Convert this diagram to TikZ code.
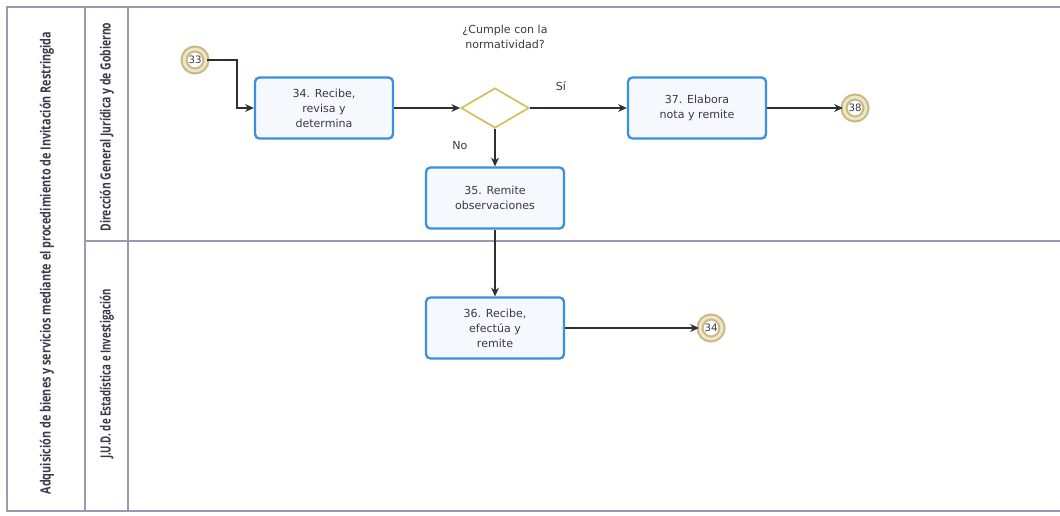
\documentclass[tikz,border=0pt]{standalone}
\usepackage{fontspec}
\setmainfont{DejaVu Sans}
\newfontfamily\lanefont{Open Sans}
\usetikzlibrary{shapes.geometric,arrows.meta}
\definecolor{laneline}{HTML}{9A9AB0}
\definecolor{boxblue}{HTML}{3A8FDE}
\definecolor{boxfill}{HTML}{F5F8FD}
\definecolor{gold}{HTML}{D2C260}
\definecolor{ring}{HTML}{C8BA82}
\definecolor{ringfill}{HTML}{EEE6C8}
\definecolor{arrowc}{HTML}{2E2E35}
\definecolor{txt}{HTML}{3A3A48}
\tikzset{
  lane/.style={draw=laneline, line width=0.6pt},
  task/.style={draw=boxblue, fill=boxfill, line width=1.3pt, rounded corners=2.5pt,
    minimum width=138*0.02cm, minimum height=61*0.02cm, align=center,
    font=\fontsize{6.3}{8.6}\selectfont, text=txt, inner sep=1pt},
  gate/.style={diamond, draw=gold, fill=white, line width=1pt, minimum width=68*0.02cm,
    minimum height=40*0.02cm, inner sep=0pt, aspect=1.7},
  link/.style={circle, draw=ring, fill=white, line width=1.2pt, minimum width=22*0.02cm,
    inner sep=0pt, font=\fontsize{5.8}{6}\selectfont, text=txt,
    double=ringfill, double distance=1.6pt},
  arr/.style={draw=arrowc, line width=0.7pt, -{Stealth[length=5pt,width=4.5pt]}},
  lbl/.style={font=\fontsize{6.3}{8.6}\selectfont, text=txt, align=center},
  lanelbl/.style={rotate=90, font=\lanefont\bfseries\fontsize{8}{9}\selectfont, text=txt}
}
\begin{document}
\begin{tikzpicture}[x=0.02cm, y=-0.02cm]
\useasboundingbox (0,0) rectangle (1060,515);
% pool frame
\draw[lane] (1060,7) -- (7,7) -- (7,511) -- (1060,511);
\draw[lane] (85,7) -- (85,511);
\draw[lane] (128,7) -- (128,511);
\draw[lane] (85,241) -- (1060,241);
% labels of pool and lanes
\node[lanelbl] (pool) at (47,263) {\scalebox{0.77}[1]{Adquisición de bienes y servicios mediante el procedimiento de Invitación Restringida}};
\node[lanelbl] (lane1) at (107,127) {\scalebox{0.74}[1]{Dirección General Jurídica y de Gobierno}};
\node[lanelbl] (lane2) at (107,374) {\scalebox{0.69}[1]{J.U.D. de Estadística e Investigación}};
% nodes
\node[link] (c33) at (195,60) {33};
\node[task] (t34) at (324,108) {34. Recibe,\\revisa y\\determina};
\node[gate] (g) at (495,108) {};
\node[lbl] (q) at (505,37) {¿Cumple con la\\normatividad?};
\node[task] (t37) at (697,108) {37. Elabora\\nota y remite};
\node[link] (c38) at (855,108) {38};
\node[task] (t35) at (495,198) {35. Remite\\observaciones};
\node[task] (t36) at (495,328) {36. Recibe,\\efectúa  y\\remite};
\node[link] (c34) at (711,328) {34};
\coordinate (b1) at (237,60);
% connectors
\draw[arr] (c33.east) -- (b1) |- (t34.west);
\draw[arr] (t34.east) -- (g.west);
\draw[arr] (g.east) -- node[lbl, pos=0.32, above=6pt] (si) {Sí} (t37.west);
\draw[arr] (g.south) -- node[lbl, pos=0.45, left=12pt] (no) {No} (t35.north);
\draw[arr] (t35.south) -- (t36.north);
\draw[arr] (t36.east) -- (c34.west);
\draw[arr] (t37.east) -- (c38.west);
\end{tikzpicture}
\end{document}
